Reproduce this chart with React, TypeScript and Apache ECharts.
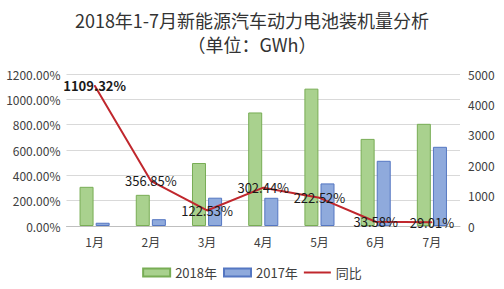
import React, { useEffect, useRef } from "react";
import * as echarts from "echarts";

const categories = ["1月", "2月", "3月", "4月", "5月", "6月", "7月"];
const values2018 = [1289, 1025, 2072, 3735, 4518, 2865, 3361];
const values2017 = [107, 224, 931, 928, 1401, 2145, 2605];
const yoyPercent = [1109.32, 356.85, 122.53, 302.44, 222.52, 33.58, 29.01];

const FONT = '"Microsoft YaHei", "Noto Sans CJK SC", sans-serif';

export default function App() {
  const ref = useRef<HTMLDivElement>(null);
  useEffect(() => {
    document.body.style.margin = "0";
    const chart = echarts.init(ref.current!, null, { renderer: "svg" });
    chart.setOption({
      animation: false,
      backgroundColor: "#ffffff",
      textStyle: { fontFamily: FONT },
      title: [
        {
          text: "2018年1-7月新能源汽车动力电池装机量分析",
          left: "center",
          top: 6,
          textStyle: { fontFamily: FONT, fontSize: 18, fontWeight: "normal", color: "#333333" },
        },
        {
          text: "（单位：GWh）",
          left: "center",
          top: 30,
          textStyle: { fontFamily: FONT, fontSize: 18, fontWeight: "normal", color: "#333333" },
        },
      ],
      legend: {
        left: "center",
        top: 261,
        itemWidth: 27,
        itemHeight: 8,
        itemGap: 6,
        textStyle: { fontFamily: FONT, fontSize: 13, color: "#404040" },
        data: [
          { name: "2018年", icon: "rect" },
          { name: "2017年", icon: "rect" },
          { name: "同比", icon: "path://M0,0 L27,0 L27,2 L0,2 Z" },
        ],
      },
      grid: { left: 66.5, right: 44, top: 74, bottom: 63 },
      xAxis: {
        type: "category",
        data: categories,
        axisTick: { show: false },
        axisLine: { lineStyle: { color: "#bfbfbf" } },
        axisLabel: { fontFamily: FONT, fontSize: 12, color: "#404040", margin: 9 },
      },
      yAxis: [
        {
          type: "value",
          min: 0,
          max: 1200,
          interval: 200,
          axisLine: { show: false },
          axisTick: { show: false },
          splitLine: { lineStyle: { color: "#d9d9d9" } },
          axisLabel: {
            fontFamily: FONT,
            fontSize: 12,
            color: "#404040",
            margin: 6,
            formatter: (v: number) => v.toFixed(2) + "%",
          },
        },
        {
          type: "value",
          min: 0,
          max: 5000,
          interval: 1000,
          axisLine: { show: false },
          axisTick: { show: false },
          splitLine: { show: false },
          axisLabel: {
            fontFamily: FONT,
            fontSize: 12,
            color: "#404040",
            margin: 8,
            formatter: (v: number) => String(v),
          },
        },
      ],
      series: [
        {
          name: "2018年",
          type: "bar",
          yAxisIndex: 1,
          data: values2018,
          barWidth: 14,
          barGap: "15%",
          itemStyle: { color: "#a9d18e", borderColor: "#78ad55", borderWidth: 1 },
        },
        {
          name: "2017年",
          type: "bar",
          yAxisIndex: 1,
          data: values2017,
          barWidth: 14,
          barGap: "15%",
          itemStyle: { color: "#8faadc", borderColor: "#5577c2", borderWidth: 1 },
        },
        {
          name: "同比",
          type: "line",
          yAxisIndex: 0,
          data: yoyPercent.map((v, i) =>
            i === 0 ? { value: v, label: { fontWeight: "bold" } } : { value: v }
          ),
          symbol: "circle",
          symbolSize: 1,
          showSymbol: true,
          lineStyle: { color: "#c0272d", width: 2 },
          itemStyle: { color: "#c0272d" },
          label: {
            show: true,
            position: "inside",
            fontFamily: FONT,
            fontSize: 13,
            color: "#1a1a1a",
            formatter: (p: any) => Number(p.value).toFixed(2) + "%",
          },
          z: 5,
        },
      ],
    });
    return () => chart.dispose();
  }, []);
  return (
    <div
      ref={ref}
      style={{ position: "absolute", left: 0, top: 0, width: 504, height: 289 }}
    />
  );
}
